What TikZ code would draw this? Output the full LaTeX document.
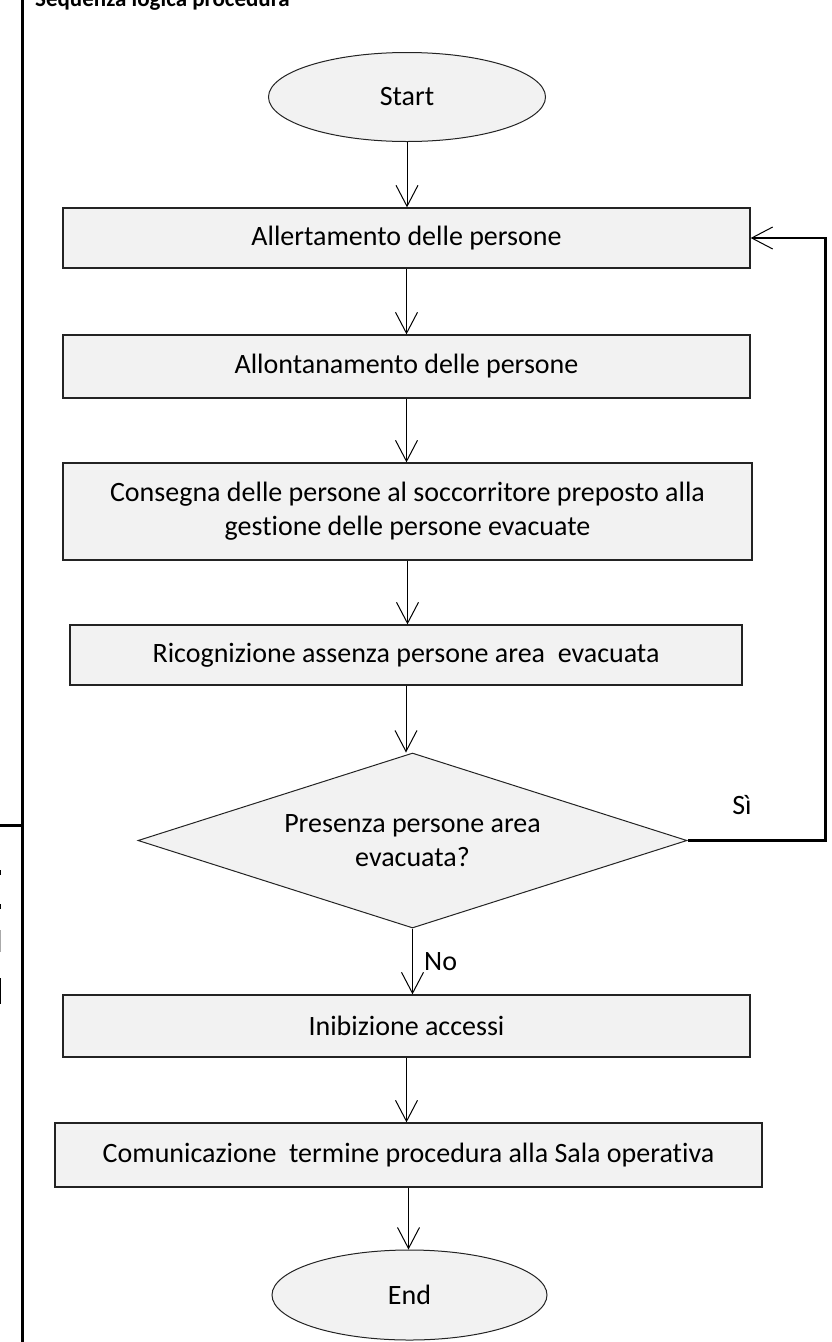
\documentclass[tikz,border=0pt]{standalone}
\usepackage{fontspec}
\setmainfont{Carlito}[Ligatures=NoCommon]
\usepackage{tikz}
\usetikzlibrary{arrows.meta, positioning, shapes.geometric}
\definecolor{BoxFill}{RGB}{242, 242, 242}
\definecolor{EdgeGray}{RGB}{35, 35, 35}
\definecolor{TickGray}{RGB}{170, 170, 170}

\begin{document}
\begin{tikzpicture}[
    x=1pt, y=-1pt,
    font=\fontsize{28}{34}\selectfont,
    procbox/.style={rectangle, draw=EdgeGray, fill=BoxFill, line width=1.3pt, align=center, inner sep=0pt},
    termnode/.style={ellipse, draw=EdgeGray, fill=BoxFill, line width=1pt, inner sep=0pt, minimum width=277pt, minimum height=89pt},
    decnode/.style={diamond, aspect=3.14, draw=EdgeGray, fill=BoxFill, line width=1pt, align=center, inner sep=0pt, minimum width=549pt, minimum height=175pt},
    flowarr/.style={-{Straight Barb[length=21pt, width=22pt, line width=1pt]}, line width=1pt, draw=black},
    looparr/.style={-{Straight Barb[length=21pt, width=22pt, line width=1pt]}, line width=2.2pt, draw=black}
]
    \useasboundingbox (0,0) rectangle (832,1342);
    \clip (0,0) rectangle (832,1342);

    % Frame
    \draw[line width=3pt] (22,0) -- (22,1342);
    \draw[line width=3pt] (0,825) -- (22,825);
    \draw[line width=1.5pt] (0.7,870) -- (0.7,875);
    \draw[line width=1.5pt] (0.7,904) -- (0.7,909);
    \draw[line width=1.5pt, TickGray] (0.7,930) -- (0.7,952);
    \draw[line width=1.5pt] (0.7,978) -- (0.7,1004);
    \node[anchor=base west, inner sep=0pt, font=\fontsize{23}{26}\selectfont\bfseries] (title) at (35,6) {Sequenza logica procedura};

    % Steps
    \node[termnode] (start) at (407,97) {Start};
    \node[procbox, minimum width=687pt, minimum height=60pt] (alert) at (406.5,238) {Allertamento delle persone};
    \node[procbox, minimum width=687pt, minimum height=63pt] (leave) at (406.5,366.5) {Allontanamento delle persone};
    \node[procbox, minimum width=689pt, minimum height=97pt] (handover) at (407.5,511.5) {Consegna delle persone al soccorritore preposto alla\\gestione delle persone evacuate};
    \node[procbox, minimum width=672pt, minimum height=60pt] (check) at (406,655) {Ricognizione assenza persone area\ \ evacuata};
    \node[decnode] (presence) at (412.5,840.5) {Presenza persone area\\evacuata?};
    \node[procbox, minimum width=687pt, minimum height=62pt] (block) at (406.5,1026) {Inibizione accessi};
    \node[procbox, minimum width=707pt, minimum height=64pt] (notify) at (408.5,1155) {Comunicazione\ \ termine procedura alla Sala operativa};
    \node[termnode, minimum width=275pt, minimum height=90pt] (stop) at (409.5,1295) {End};

    % Flow Arrows
    \draw[flowarr] (start.south) -- (start.south |- alert.north);
    \draw[flowarr] (alert.south) -- (alert.south |- leave.north);
    \draw[flowarr] (leave.south) -- (leave.south |- handover.north);
    \draw[flowarr] (handover.south) -- (handover.south |- check.north);
    \draw[flowarr] (check.south) -- (check.south |- presence.north);
    \draw[flowarr] (presence.south) -- (presence.south |- block.north);
    \draw[flowarr] (block.south) -- (block.south |- notify.north);
    \draw[flowarr] (notify.south) -- (notify.south |- stop.north);

    % Loop back
    \draw[looparr] (presence.east) -- ++(138,0) |- (alert.east);
    \node[anchor=center] (yes) at (742,805) {Sì};
    \node[anchor=west, inner sep=0pt] (no) at (424,962) {No};

\end{tikzpicture}
\end{document}
